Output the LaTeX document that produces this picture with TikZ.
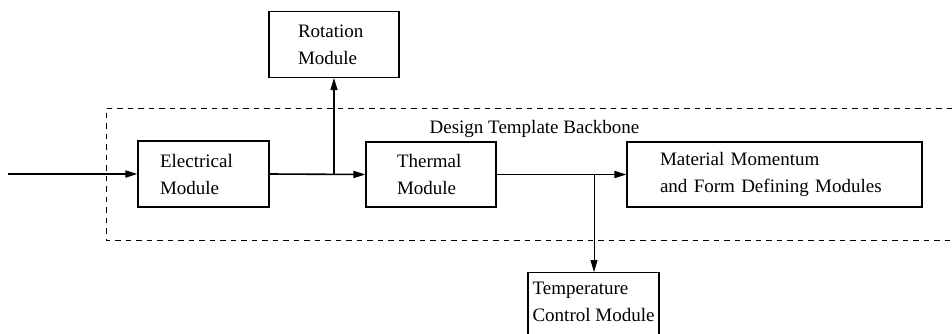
\documentclass[tikz,border=0pt]{standalone}
\usepackage{fontspec}
\setmainfont{Liberation Serif}
\usetikzlibrary{arrows.meta}
\begin{document}
\begin{tikzpicture}[x=1pt,y=-1pt,
  box/.style={draw,line width=1.1pt,rectangle,align=left,inner ysep=4pt,
    font=\fontsize{19}{27}\selectfont},
  flow/.style={line width=1.6pt,-{Triangle[length=12pt,width=7pt]}},
  branch/.style={line width=1.1pt,-{Triangle[length=12pt,width=7pt]}},
  thinbranch/.style={line width=0.8pt,-{Triangle[length=12pt,width=7pt]}},
  frame/.style={line width=0.7pt,dash pattern=on 5.5pt off 5pt}]
\useasboundingbox (0,0) rectangle (952,333);
% backbone frame
\draw[frame] (952,108) -- (106,108) -- (106,240) -- (952,240);
\node[font=\fontsize{19}{27}\selectfont,anchor=base] (lbl) at (534.5,133) {Design Template Backbone};
% boxes
\node[box,minimum height=66pt,inner xsep=22pt,text width=87pt] (elec) at (203.5,174) {Electrical\\Module};
\node[box,minimum height=66pt,inner xsep=29pt,text width=72pt] (rot) at (334,44.5) {Rotation\\Module};
\node[box,minimum height=65pt,inner xsep=31pt,text width=68pt] (therm) at (431,174.5) {Thermal\\Module};
\node[box,minimum height=65pt,inner xsep=33pt,text width=229pt] (mat) at (774.5,174.5) {Material Momentum\\and Form Defining Modules};
\node[box,anchor=north,minimum width=131pt,inner xsep=0pt,inner ysep=9pt,text depth=40pt] (temp) at (593.5,272) {Temperature\\Control Module};
% connectors
\coordinate (in) at (8,174);
\coordinate (b1) at (334,174);
\coordinate (b2) at (594,174);
\draw[flow] (in) -- (elec.west);
\draw[flow] (elec.east) -- (therm.west);
\draw[branch] (b1) -- (rot.south);
\draw[flow] (therm.east) -- (mat.west);
\draw[thinbranch] (b2) -- (b2 |- temp.north);
\end{tikzpicture}
\end{document}
